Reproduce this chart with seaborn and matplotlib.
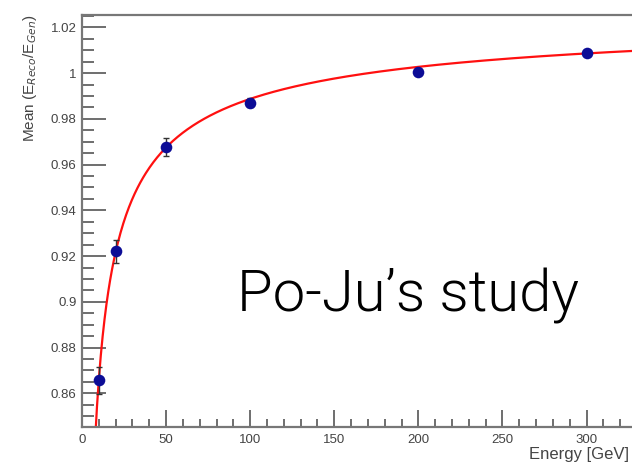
import numpy as np
import pandas as pd
import matplotlib
matplotlib.use("Agg")
import matplotlib.pyplot as plt
from matplotlib.ticker import MultipleLocator, FuncFormatter
import seaborn as sns

# Measured response points
energy = [10, 20, 50, 100, 200, 300]
mean_ratio = [0.8657, 0.9222, 0.9676, 0.9871, 1.0003, 1.0086]
mean_err = [0.006, 0.005, 0.004, 0.002, 0.001, 0.001]

# Fit: f(E) = p0 - p1 * E^(-p2)
fit_p0 = 1.0299
fit_p1 = 0.6525
fit_p2 = 0.60

x_ticks = [0, 50, 100, 150, 200, 250, 300]
y_ticks = [0.86, 0.88, 0.90, 0.92, 0.94, 0.96, 0.98, 1.00, 1.02]

sns.set_theme(style="white")
plt.rcParams["font.family"] = ["Liberation Sans", "DejaVu Sans"]

fig = plt.figure(figsize=(6.32, 4.62), dpi=100)
ax = fig.add_axes([82 / 632, 35 / 462, 555 / 632, 412 / 462])

df = pd.DataFrame({"energy": energy, "mean": mean_ratio, "err": mean_err})

e_fit = np.linspace(5.0, 340.0, 600)
fit_df = pd.DataFrame({"energy": e_fit, "mean": fit_p0 - fit_p1 * e_fit ** (-fit_p2)})
sns.lineplot(data=fit_df, x="energy", y="mean", ax=ax, color="#ff1010",
             linewidth=1.6, zorder=2)

ax.errorbar(df["energy"], df["mean"], yerr=df["err"], fmt="none",
            ecolor="#333333", elinewidth=1.0, capsize=2, capthick=1.0, zorder=3)
sns.scatterplot(data=df, x="energy", y="mean", ax=ax, color="#0c0c96",
                s=70, edgecolor="#0c0c96", linewidth=0, zorder=4)

ax.set_xlim(0, 330)
ax.set_ylim(0.8453, 1.0254)

ax.xaxis.set_major_locator(MultipleLocator(50))
ax.xaxis.set_minor_locator(MultipleLocator(10))
ax.yaxis.set_major_locator(MultipleLocator(0.02))
ax.yaxis.set_minor_locator(MultipleLocator(0.005))
ax.set_xticks(x_ticks)
ax.set_yticks(y_ticks)
ax.yaxis.set_major_formatter(FuncFormatter(lambda v, p: f"{v:g}"))

ax.tick_params(axis="both", which="both", direction="in", colors="#555555",
               labelcolor="#444444", labelsize=9.5)
ax.tick_params(axis="x", which="major", length=12, width=1.2, pad=5)
ax.tick_params(axis="x", which="minor", length=6, width=1.2)
ax.tick_params(axis="y", which="major", length=17, width=1.2, pad=4)
ax.tick_params(axis="y", which="minor", length=8.5, width=1.2)
ax.tick_params(bottom=True, left=True, top=False, right=False, which="both")

for side in ["left", "bottom", "top"]:
    ax.spines[side].set_visible(True)
    ax.spines[side].set_color("#777777")
    ax.spines[side].set_linewidth(1.6)
ax.spines["right"].set_visible(False)

ax.set_xlabel("")
ax.set_ylabel("Mean (E$_{Reco}$/E$_{Gen}$)", fontsize=11, color="#444444",
              ha="right", y=1.0, labelpad=8)
fig.text(629 / 632, 1 - 455 / 462, "Energy [GeV]", fontsize=12,
         color="#444444", ha="right", va="center")

fig.text(237 / 632, 1 - 312 / 462, "Po-Ju’s study", fontsize=41.8,
         family=["Roboto", "DejaVu Sans"], fontweight=300,
         color="black", ha="left", va="baseline")

fig.savefig("out.png", dpi=100)
